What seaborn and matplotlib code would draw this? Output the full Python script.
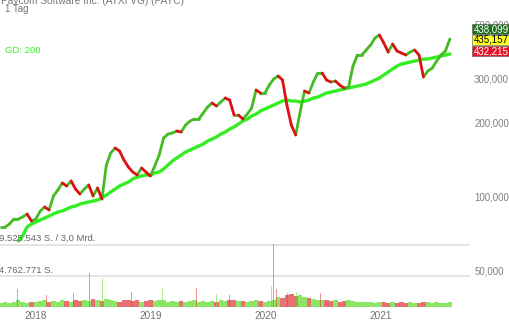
import numpy as np
import pandas as pd
import matplotlib
matplotlib.use("Agg")
import matplotlib.pyplot as plt
import seaborn as sns
from matplotlib.ticker import NullLocator
from matplotlib.patches import Rectangle

# ---------------- data ----------------
start_date = "2017-09-12"
close = [
    74860, 74860, 77000, 80690, 80690, 82210, 84550, 79190, 80690, 86960,
    90270, 87780, 100060, 105840, 113010, 109870, 115140, 106830, 101950, 106830,
    110900, 100060, 107840, 97290, 133740, 149630, 156810, 152460, 140140, 131260,
    125260, 121790, 130040, 125260, 120650, 132490, 146860, 172180, 178750, 180430,
    183840, 182130, 194460, 201880, 205690, 205690, 217570, 230140, 238920, 232300,
    241170, 250370, 245730, 213540, 213540, 205690, 215550, 228000, 269830, 262360,
    262360, 282750, 299080, 307600, 296300, 234490, 194460, 177080, 219620, 267320,
    262360, 290810, 316370, 316370, 296300, 290810, 293540, 282750, 274930, 277510,
    337790, 374410, 374410, 392340, 411130, 438980, 451460, 418920, 385070, 415000,
    388690, 381480, 374410, 385070, 392340, 374410, 304740, 322340, 331520, 353970,
    374410, 388690, 435157,
]
ma200 = [
    np.nan, np.nan, np.nan, np.nan,
    65670, 68810, 74860, 77000, 78450, 79930,
    81440, 82980, 84550, 86150, 86960, 88600, 90270, 91120, 92840, 93720,
    94600, 95490, 96390, 98210, 101000, 103880, 106830, 109870, 111960, 114070,
    117310, 119530, 120650, 121790, 121790, 124090, 125260, 128820, 133740, 138840,
    142800, 146860, 151040, 153890, 156810, 159770, 162780, 167420, 170580, 173800,
    178750, 182130, 187310, 190855, 196280, 201880, 205690, 211550, 215550, 221680,
    225870, 230140, 234490, 238920, 243440, 245730, 243440, 243440, 241170, 243440,
    245730, 250370, 252720, 257490, 262360, 264830, 267320, 269830, 272360, 274930,
    277510, 280120, 282750, 285410, 290810, 296300, 301910, 310490, 319340, 328430,
    337790, 344170, 347400, 350670, 353970, 357290, 360650, 360650, 364040, 367470,
    370920, 374410, 377930,
]
volume_mio = [
    0.6, 0.7, 0.6, 0.8, 1.0, 0.7, 0.6, 0.8, 0.7, 0.9,
    1.0, 0.8, 0.9, 0.8, 1.0, 0.9, 0.8, 1.1, 0.9, 1.0,
    0.9, 1.2, 1.0, 0.9, 1.2, 1.0, 0.9, 0.8, 1.0, 1.1,
    0.9, 1.0, 0.8, 0.9, 1.0, 0.9, 1.1, 1.0, 0.8, 0.9,
    0.8, 0.9, 0.8, 0.9, 1.0, 0.8, 0.9, 0.8, 0.9, 0.8,
    1.0, 0.9, 1.1, 1.0, 0.9, 0.9, 0.8, 0.9, 1.0, 0.9,
    0.8, 0.9, 1.1, 1.5, 1.4, 1.9, 2.0, 1.7, 1.8, 1.5,
    1.4, 1.2, 1.0, 1.1, 1.0, 0.9, 1.0, 0.8, 0.9, 1.0,
    0.9, 0.8, 0.7, 0.8, 0.7, 0.6, 0.7, 0.8, 0.6, 0.7,
    0.6, 0.7, 0.6, 0.7, 0.6, 0.6, 0.8, 0.7, 0.6, 0.7,
    0.6, 0.6, 0.7,
]
spike_dates = ["2017-11-05", "2018-02-05", "2018-05-02", "2018-06-21", "2018-08-02",
               "2018-11-02", "2019-02-08", "2019-05-27", "2019-07-29", "2019-09-09",
               "2020-01-20", "2020-01-26", "2020-02-05", "2020-03-11", "2020-04-08",
               "2020-06-24"]
spike_mio = [2.7, 1.8, 2.1, 5.2, 4.5, 2.3, 2.7, 2.9, 2.0, 1.8, 3.2, 9.7, 2.7, 2.1, 2.3, 2.1]
spike_dir = ["down", "down", "down", "down", "up", "down", "up", "down", "up", "down",
             "up", "down", "down", "down", "up", "down"]

title = "Paycom Software Inc. (ATXI VG) (PAYC)"
subtitle = "1 Tag"
ma_label = "GD: 200"
year_ticks = ["2018-01-01", "2019-01-01", "2020-01-01", "2021-01-01"]
year_labels = ["2018", "2019", "2020", "2021"]
price_ticks = [50000, 100000, 200000, 300000, 500000]
price_labels = ["50,000", "100,000", "200,000", "300,000", "500,000"]
vol_levels = [9525543, 4762771]
vol_level_labels = ["9.525.543 S. / 3,0 Mrd.", "4.762.771 S."]
last_values = ["438,099", "435,157", "432,215"]

# ---------------- styling ----------------
sns.set_style("white")
plt.rcParams["font.family"] = ["Liberation Sans", "DejaVu Sans"]

RED = "#dd1111"
GREEN = "#44bb22"
MA_GREEN = "#33ee22"
GRAY = "#808080"

W, H = 510, 320
fig = plt.figure(figsize=(W / 100, H / 100), dpi=100)
ax_bottom_px = 307
ax_right_px = 470
ax = fig.add_axes([0, 1 - ax_bottom_px / H, ax_right_px / W, ax_bottom_px / H])
vax = ax.twinx()

dates = pd.date_range(start_date, periods=len(close), freq="14D")
df = pd.DataFrame({"date": dates, "close": close, "ma": ma200, "vol": np.array(volume_mio) * 1e6})
df["dir"] = ["up"] + ["up" if close[i] >= close[i - 1] else "down" for i in range(1, len(close))]

ax.set_yscale("log")
ax.set_ylim(35400, 626700)
ax.set_xlim(pd.Timestamp("2017-09-10"), pd.Timestamp("2021-10-13"))

# volume
vcol = {"up": "#66dd33", "down": "#e04040"}
vax.bar(df["date"], df["vol"], width=14, color=[vcol[d] for d in df["dir"]], alpha=0.75, linewidth=0)
vax.bar(pd.to_datetime(spike_dates), np.array(spike_mio) * 1e6, width=3,
        color=[vcol[d] for d in spike_dir], alpha=0.55, linewidth=0)
vax.set_ylim(0, vol_levels[0] * ax_bottom_px / 62)
for lv in vol_levels:
    vax.axhline(lv, color="#e2e2e2", lw=1.3, zorder=0)
vax.set_yticks([])
for s in vax.spines.values():
    s.set_visible(False)

ax.set_zorder(vax.get_zorder() + 1)
ax.patch.set_visible(False)

# moving average
sns.lineplot(data=df, x="date", y="ma", color=MA_GREEN, lw=2.4, ax=ax, zorder=3)

# price segments
rows = []
for i in range(1, len(close)):
    d = df["dir"].iloc[i]
    rows.append((i, dates[i - 1], close[i - 1], d))
    rows.append((i, dates[i], close[i], d))
seg = pd.DataFrame(rows, columns=["seg", "date", "price", "dir"])
sns.lineplot(data=seg, x="date", y="price", hue="dir", units="seg", estimator=None,
             palette={"up": GREEN, "down": RED}, lw=2.0, legend=False, ax=ax, zorder=4)

# axes formatting
ax.set_xlabel("")
ax.set_ylabel("")
ax.yaxis.tick_right()
ax.set_yticks(price_ticks)
ax.set_yticklabels(price_labels)
ax.yaxis.set_minor_locator(NullLocator())
ax.set_xticks(pd.to_datetime(year_ticks))
ax.set_xticklabels(year_labels)
ax.tick_params(axis="y", length=0, pad=3, labelsize=7, labelcolor=GRAY)
ax.tick_params(axis="x", length=0, pad=3, labelsize=7.2, labelcolor="#707070")
for s in ax.spines.values():
    s.set_visible(False)
ax.grid(False)

# texts
fig.text(1 / W, 1 - 3.5 / H, title, fontsize=7.3, color="#777777", va="baseline")
fig.text(5 / W, 1 - 12.5 / H, subtitle, fontsize=7, color="#777777", va="baseline")
fig.text(5 / W, 1 - 52.7 / H, ma_label, fontsize=6.8, color=MA_GREEN, va="baseline")
fig.text(-1 / W, 1 - 241 / H, vol_level_labels[0], fontsize=6.8, color="#666666", va="baseline")
fig.text(-1 / W, 1 - 273 / H, vol_level_labels[1], fontsize=6.8, color="#666666", va="baseline")

# last value boxes
box_specs = [("#1f6e1f", "white", 24), ("#ffff22", "black", 35), ("#e8132b", "white", 46)]
for txt, (fc, tc, top) in zip(last_values, box_specs):
    fig.patches.append(Rectangle((472 / W, 1 - (top + 10) / H), 40 / W, 10 / H,
                                 transform=fig.transFigure, facecolor=fc,
                                 edgecolor="#555555", lw=0.4, zorder=10))
    fig.text(473.5 / W, 1 - (top + 5) / H, txt, fontsize=7, color=tc, va="center",
             zorder=11)

fig.savefig("out.png", dpi=100)
